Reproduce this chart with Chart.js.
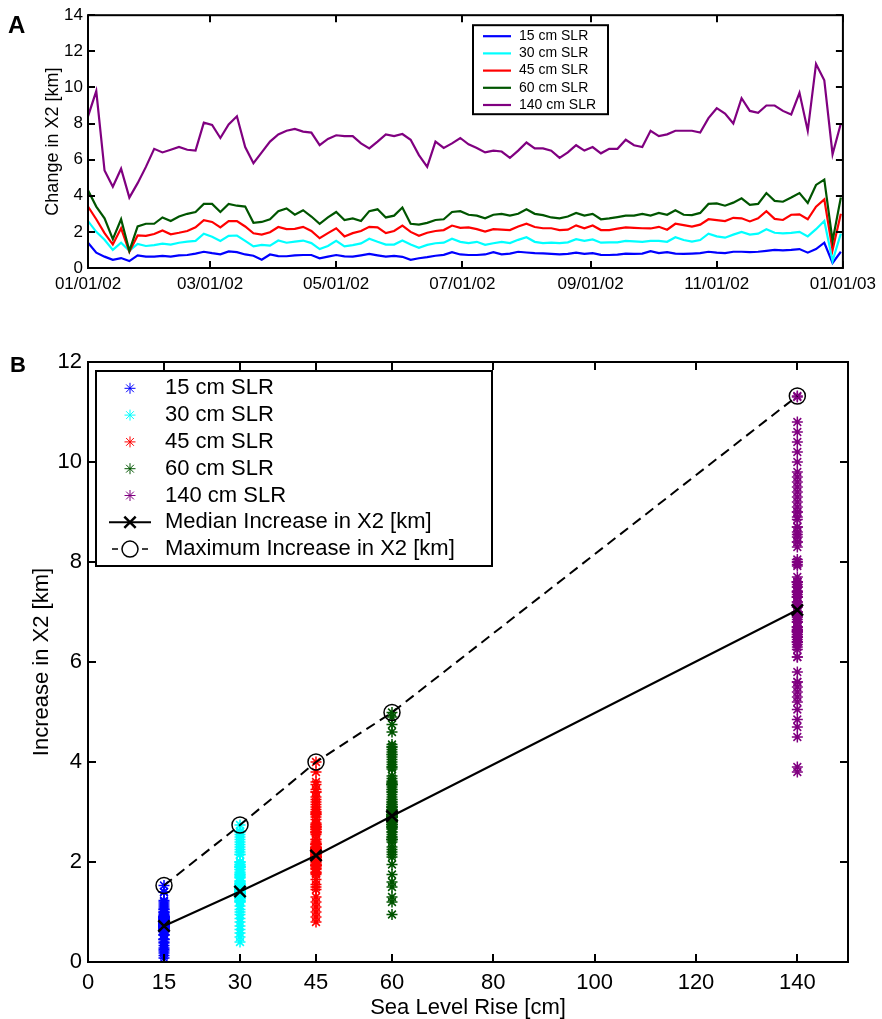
<!DOCTYPE html>
<html>
<head>
<meta charset="utf-8">
<title>Change in X2 under sea level rise</title>
<style>
  body { margin: 0; background: #fff; }
  .wrap { position: relative; width: 882px; height: 1019px; }
  canvas { position: absolute; left: 0; }
  #chartA { top: 0; }
  #chartB { top: 300px; }
  .panel { position: absolute; font-family: 'Liberation Sans', Arial, sans-serif; font-weight: bold; line-height: 1; }
</style>
</head>
<body>
<div class="wrap">
  <canvas id="chartA" width="882" height="300"></canvas>
  <canvas id="chartB" width="882" height="719"></canvas>
  <div class="panel" style="left:8px;top:13px;font-size:24px">A</div>
  <div class="panel" style="left:10px;top:354px;font-size:22px">B</div>
</div>

<script src="https://cdn.jsdelivr.net/npm/chart.js"></script>
<script>
  // panel A: change in X2 [km], one value every 4 days from 01/01/02
  var slr15 = [
    1.4, 0.85, 0.63, 0.45, 0.55, 0.38, 0.7, 0.63, 0.63, 0.67,
    0.63, 0.7, 0.72, 0.8, 0.9, 0.82, 0.76, 0.92, 0.88, 0.75,
    0.68, 0.46, 0.75, 0.66, 0.65, 0.7, 0.72, 0.72, 0.54, 0.63,
    0.72, 0.64, 0.63, 0.7, 0.78, 0.7, 0.63, 0.67, 0.62, 0.45,
    0.54, 0.6, 0.68, 0.73, 0.88, 0.75, 0.72, 0.72, 0.75, 0.88,
    0.76, 0.8, 0.9, 0.86, 0.82, 0.81, 0.78, 0.76, 0.78, 0.85,
    0.78, 0.82, 0.73, 0.72, 0.74, 0.8, 0.78, 0.8, 0.93, 0.82,
    0.88, 0.8, 0.78, 0.8, 0.82, 0.9, 0.85, 0.82, 0.9, 0.9,
    0.88, 0.9, 0.95, 1.0, 0.98, 1.0, 1.05, 0.85, 1.05, 1.4,
    0.28, 0.9
  ];
  var slr30 = [
    2.6, 2.0, 1.56, 1.0, 1.4, 0.95, 1.33, 1.22, 1.27, 1.35,
    1.3, 1.4, 1.46, 1.5, 1.9, 1.73, 1.5, 1.78, 1.8, 1.5,
    1.2, 1.28, 1.24, 1.52, 1.4, 1.46, 1.52, 1.38, 1.05, 1.22,
    1.5, 1.2, 1.27, 1.36, 1.62, 1.45, 1.3, 1.3, 1.52, 1.3,
    1.12, 1.28, 1.37, 1.4, 1.62, 1.45, 1.38, 1.45, 1.28, 1.37,
    1.45, 1.38, 1.56, 1.7, 1.45, 1.38, 1.4, 1.38, 1.42, 1.6,
    1.5, 1.58, 1.4, 1.42, 1.42, 1.5, 1.47, 1.45, 1.5, 1.5,
    1.45, 1.7, 1.55, 1.46, 1.55, 1.9, 1.75, 1.68, 1.85, 2.0,
    1.85, 1.9, 2.15, 1.95, 1.92, 1.95, 2.0, 1.75, 2.15, 2.6,
    0.4, 1.9
  ];
  var slr45 = [
    3.4, 2.7, 1.93, 1.3, 2.2, 0.9, 1.8, 1.78, 1.88, 2.08,
    1.87, 1.95, 2.05, 2.25, 2.65, 2.55, 2.25, 2.6, 2.6, 2.3,
    1.92, 1.85, 1.98, 2.27, 2.15, 2.17, 2.28, 2.05, 1.65, 1.93,
    2.2, 1.75, 1.93, 2.05, 2.28, 2.25, 1.93, 2.05, 2.35, 2.0,
    1.78, 1.95, 2.05, 2.1, 2.35, 2.22, 2.25, 2.15, 2.02, 2.15,
    2.12, 2.1, 2.3, 2.45, 2.27, 2.2, 2.2, 2.1, 2.12, 2.36,
    2.2, 2.35, 2.1, 2.1, 2.18, 2.25, 2.22, 2.2, 2.19, 2.28,
    2.12, 2.45, 2.37, 2.29, 2.4, 2.7, 2.65, 2.6, 2.78, 2.75,
    2.58, 2.75, 3.15, 2.72, 2.66, 2.95, 2.97, 2.7, 3.4, 3.8,
    1.0, 3.0
  ];
  var slr60 = [
    4.3, 3.4, 2.75, 1.6, 2.7, 0.95, 2.3, 2.45, 2.45, 2.8,
    2.6, 2.85, 3.0, 3.1, 3.55, 3.55, 3.1, 3.55, 3.45, 3.4,
    2.5, 2.55, 2.7, 3.15, 3.3, 2.95, 3.2, 2.85, 2.45, 2.8,
    3.1, 2.66, 2.75, 2.6, 3.15, 3.25, 2.8, 2.9, 3.35, 2.45,
    2.4, 2.5, 2.66, 2.7, 3.1, 3.15, 2.95, 2.9, 2.75, 2.95,
    3.0, 2.9, 3.0, 3.25, 3.0, 2.93, 2.8, 2.75, 2.85, 3.05,
    2.9, 3.0, 2.7, 2.75, 2.82, 2.9, 2.9, 3.0, 2.9, 3.05,
    2.95, 3.2, 2.95, 2.93, 3.05, 3.55, 3.58, 3.45, 3.62, 3.86,
    3.5, 3.55, 4.15, 3.72, 3.67, 3.9, 4.15, 3.6, 4.6, 4.9,
    1.5, 3.9
  ];
  var slr140 = [
    8.4, 9.8, 5.4, 4.5, 5.5, 3.9, 4.7, 5.6, 6.6, 6.4,
    6.55, 6.7, 6.55, 6.5, 8.05, 7.92, 7.2, 7.95, 8.4, 6.7,
    5.8, 6.4, 7.0, 7.4, 7.6, 7.7, 7.55, 7.5, 6.8, 7.15,
    7.35, 7.3, 7.3, 6.9, 6.62, 7.0, 7.4, 7.3, 7.42, 7.1,
    6.25, 5.6, 7.0, 6.65, 6.9, 7.2, 6.85, 6.65, 6.4, 6.5,
    6.45, 6.1, 6.5, 6.95, 6.62, 6.62, 6.5, 6.1, 6.4, 6.8,
    6.5, 6.7, 6.35, 6.6, 6.6, 7.1, 6.8, 6.7, 7.6, 7.3,
    7.4, 7.6, 7.6, 7.6, 7.5, 8.3, 8.85, 8.55, 8.0, 9.4,
    8.7, 8.6, 9.0, 9.0, 8.7, 8.5, 9.7, 7.6, 11.3, 10.4,
    6.3, 8.0
  ];
  var sampleDays = slr15.map(function(v, i) { return i * 4; });

  var dateTickDays = [0, 59, 120, 181, 243, 304, 365];
  var dateTickLabels = ['01/01/02', '03/01/02', '05/01/02', '07/01/02', '09/01/02', '11/01/02', '01/01/03'];

  var seriesNames = ['15 cm SLR', '30 cm SLR', '45 cm SLR', '60 cm SLR', '140 cm SLR'];
  var seriesColors = ['#0000ff', '#00ffff', '#ff0000', '#005500', '#800080'];
  var allSeries = [slr15, slr30, slr45, slr60, slr140];

  // panel B: the daily values above plus the asterisks in panel B that the 4-day sampling misses
  var slrLevels = [15, 30, 45, 60, 140];
  var medianIncrease = [0.72, 1.41, 2.13, 2.92, 7.04];
  var maxIncrease = [1.53, 2.74, 4.0, 4.99, 11.32];
  var riseTicks = [0, 15, 30, 45, 60, 80, 100, 120, 140];
  var extraB15 = [0.08, 0.13, 0.18, 0.22, 0.25, 0.33, 0.4, 1.08, 1.12, 1.16, 1.2, 1.23];
  var extraB30 = [0.5, 0.58, 0.65, 0.72, 0.8, 0.87, 2.2, 2.25, 2.3, 2.35, 2.4, 2.45, 2.5, 2.55, 2.62];
  var extraB45 = [0.8, 1.1, 1.2, 1.45, 1.5, 1.55, 2.85, 2.9, 2.95, 3.0, 3.05, 3.1, 3.2, 3.25, 3.3, 3.45, 3.55, 3.6];
  var extraB60 = [1.2, 1.3, 1.75, 1.95, 2.1, 2.15, 2.2, 2.25, 3.95, 4.0, 4.05, 4.1, 4.2, 4.25, 4.3, 4.35, 4.75];
  var extraB140 = [3.8, 4.85, 5.05, 5.2, 5.3, 8.9, 9.1, 9.2, 9.3, 9.5, 9.6, 10.0, 10.2, 10.6, 10.8];
  var allExtras = [extraB15, extraB30, extraB45, extraB60, extraB140];

  Chart.defaults.font.family = "'Liberation Sans', Arial, sans-serif";
  Chart.defaults.color = '#000';

  // box round the plot with inward tick marks, like the original
  var frameTicks = {
    id: 'frameTicks',
    afterDraw: function(chart, args, opts) {
      var ctx = chart.ctx, a = chart.chartArea;
      var x = chart.scales.x, y = chart.scales.y, len = opts.len;
      ctx.save();
      ctx.strokeStyle = '#000';
      ctx.lineWidth = opts.width;
      ctx.beginPath();
      x.ticks.forEach(function(t) {
        var px = Math.round(x.getPixelForValue(t.value));
        ctx.moveTo(px, a.bottom); ctx.lineTo(px, a.bottom - len);
        ctx.moveTo(px, a.top); ctx.lineTo(px, a.top + len);
      });
      y.ticks.forEach(function(t) {
        var py = Math.round(y.getPixelForValue(t.value));
        ctx.moveTo(a.left, py); ctx.lineTo(a.left + len, py);
        ctx.moveTo(a.right, py); ctx.lineTo(a.right - len, py);
      });
      ctx.stroke();
      ctx.strokeRect(a.left, a.top, a.right - a.left, a.bottom - a.top);
      ctx.restore();
    }
  };

  var legendA = {
    id: 'legendA',
    afterDraw: function(chart) {
      var ctx = chart.ctx, a = chart.chartArea;
      var left = a.left + 385, top = a.top + 10, w = 135, h = 89;
      ctx.save();
      ctx.fillStyle = '#fff';
      ctx.fillRect(left, top, w, h);
      ctx.strokeStyle = '#000';
      ctx.lineWidth = 2;
      ctx.strokeRect(left, top, w, h);
      ctx.font = "14px 'Liberation Sans', Arial, sans-serif";
      ctx.textBaseline = 'middle';
      seriesNames.forEach(function(name, i) {
        var yy = top + 11 + i * 17.2;
        ctx.strokeStyle = seriesColors[i];
        ctx.lineWidth = 2.2;
        ctx.beginPath(); ctx.moveTo(left + 10, yy); ctx.lineTo(left + 38, yy); ctx.stroke();
        ctx.fillStyle = '#000';
        ctx.fillText(name, left + 46, yy);
      });
      ctx.restore();
    }
  };

  function drawStar(ctx, x, y, r) {
    var d = r * Math.cos(Math.PI / 4);
    ctx.beginPath();
    ctx.moveTo(x, y - r); ctx.lineTo(x, y + r);
    ctx.moveTo(x - r, y); ctx.lineTo(x + r, y);
    ctx.moveTo(x - d, y - d); ctx.lineTo(x + d, y + d);
    ctx.moveTo(x - d, y + d); ctx.lineTo(x + d, y - d);
    ctx.stroke();
  }

  var legendB = {
    id: 'legendB',
    afterDraw: function(chart) {
      var ctx = chart.ctx, a = chart.chartArea;
      var left = a.left + 8, top = a.top + 9, w = 396, h = 195;
      var mx = left + 34, tx = left + 69;
      ctx.save();
      ctx.fillStyle = '#fff';
      ctx.fillRect(left, top, w, h);
      ctx.strokeStyle = '#000';
      ctx.lineWidth = 2;
      ctx.strokeRect(left, top, w, h);
      ctx.font = "22px 'Liberation Sans', Arial, sans-serif";
      ctx.textBaseline = 'middle';
      var names = seriesNames.concat(['Median Increase in X2 [km]', 'Maximum Increase in X2 [km]']);
      names.forEach(function(name, i) {
        var yy = top + 17.3 + i * 26.8;
        if (i < 5) {
          ctx.strokeStyle = seriesColors[i];
          ctx.lineWidth = 1;
          drawStar(ctx, mx, yy, 5.5);
        } else if (i === 5) {
          ctx.strokeStyle = '#000';
          ctx.lineWidth = 2;
          ctx.beginPath(); ctx.moveTo(left + 13, yy); ctx.lineTo(left + 55, yy); ctx.stroke();
          ctx.lineWidth = 2.5;
          var d = 8 * Math.cos(Math.PI / 4);
          ctx.beginPath();
          ctx.moveTo(mx - d, yy - d); ctx.lineTo(mx + d, yy + d);
          ctx.moveTo(mx - d, yy + d); ctx.lineTo(mx + d, yy - d);
          ctx.stroke();
        } else {
          ctx.strokeStyle = '#000';
          ctx.lineWidth = 1.5;
          ctx.setLineDash([6, 4]);
          ctx.beginPath(); ctx.moveTo(left + 16, yy); ctx.lineTo(left + 54, yy); ctx.stroke();
          ctx.setLineDash([]);
          ctx.fillStyle = '#fff';
          ctx.beginPath(); ctx.arc(mx, yy, 8, 0, Math.PI * 2); ctx.fill(); ctx.stroke();
        }
        ctx.fillStyle = '#000';
        ctx.fillText(name, tx, yy);
      });
      ctx.restore();
    }
  };

  // ---- panel A ----
  var lineSets = allSeries.map(function(vals, k) {
    return {
      label: seriesNames[k],
      data: vals.map(function(v, i) { return { x: sampleDays[i], y: v }; }),
      borderColor: seriesColors[k],
      borderWidth: 2.2,
      pointRadius: 0,
      tension: 0,
      order: 5 - k
    };
  });

  new Chart(document.getElementById('chartA'), {
    type: 'line',
    data: { datasets: lineSets },
    plugins: [frameTicks, legendA],
    options: {
      responsive: false,
      animation: false,
      devicePixelRatio: 1,
      layout: { padding: { left: 0, right: 34, top: 15, bottom: 0 } },
      plugins: {
        legend: { display: false },
        tooltip: { enabled: false },
        frameTicks: { len: 7, width: 2 }
      },
      scales: {
        x: {
          type: 'linear', min: 0, max: 365,
          grid: { display: false, drawTicks: false }, border: { display: false },
          afterBuildTicks: function(s) { s.ticks = dateTickDays.map(function(v) { return { value: v }; }); },
          afterFit: function(s) { s.height = 32; },
          ticks: {
            autoSkip: false, maxRotation: 0, padding: 6,
            font: { size: 17 },
            callback: function(v) { return dateTickLabels[dateTickDays.indexOf(v)]; }
          }
        },
        y: {
          min: 0, max: 14,
          grid: { display: false, drawTicks: false }, border: { display: false },
          afterFit: function(s) { s.width = 88; },
          ticks: { stepSize: 2, padding: 5, font: { size: 17 } },
          title: { display: true, text: 'Change in X2 [km]', font: { size: 18 }, padding: { top: 42, bottom: 0 } }
        }
      }
    }
  });

  // ---- panel B ----
  var scatterSets = allSeries.map(function(vals, k) {
    var pts = vals.concat(allExtras[k], [maxIncrease[k]]).map(function(v) { return { x: slrLevels[k], y: v }; });
    return {
      type: 'scatter',
      label: seriesNames[k],
      data: pts,
      pointStyle: 'star',
      pointRadius: 5.5,
      borderWidth: 1.5,
      borderColor: seriesColors[k],
      backgroundColor: seriesColors[k]
    };
  });

  var medianSet = {
    type: 'line',
    label: 'Median Increase in X2 [km]',
    data: slrLevels.map(function(x, i) { return { x: x, y: medianIncrease[i] }; }),
    borderColor: '#000', borderWidth: 2, tension: 0,
    pointStyle: 'crossRot', pointRadius: 8, pointBorderWidth: 2.5,
    pointBorderColor: '#000', pointBackgroundColor: '#000'
  };
  var maxSet = {
    type: 'line',
    label: 'Maximum Increase in X2 [km]',
    data: slrLevels.map(function(x, i) { return { x: x, y: maxIncrease[i] }; }),
    borderColor: '#000', borderWidth: 2, borderDash: [10, 6], tension: 0,
    pointStyle: 'circle', pointRadius: 8, pointBorderWidth: 1.5,
    pointBorderColor: '#000', pointBackgroundColor: 'rgba(0,0,0,0)'
  };

  new Chart(document.getElementById('chartB'), {
    type: 'scatter',
    data: { datasets: [medianSet, maxSet].concat(scatterSets) },
    plugins: [frameTicks, legendB],
    options: {
      responsive: false,
      animation: false,
      devicePixelRatio: 1,
      layout: { padding: { left: 0, right: 34, top: 62, bottom: 0 } },
      plugins: {
        legend: { display: false },
        tooltip: { enabled: false },
        frameTicks: { len: 8, width: 2 }
      },
      scales: {
        x: {
          type: 'linear', min: 0, max: 150,
          grid: { display: false, drawTicks: false }, border: { display: false },
          afterBuildTicks: function(s) { s.ticks = riseTicks.map(function(v) { return { value: v }; }); },
          afterFit: function(s) { s.height = 57; },
          ticks: { autoSkip: false, maxRotation: 0, padding: 8, font: { size: 22 } },
          title: { display: true, text: 'Sea Level Rise [cm]', font: { size: 22, lineHeight: 1 }, padding: 0 }
        },
        y: {
          min: 0, max: 12,
          grid: { display: false, drawTicks: false }, border: { display: false },
          afterFit: function(s) { s.width = 88; },
          ticks: { stepSize: 2, padding: 6, font: { size: 22 } },
          title: { display: true, text: 'Increase in X2 [km]', font: { size: 22 }, padding: { top: 29, bottom: 0 } }
        }
      }
    }
  });
</script>
</body>
</html>
